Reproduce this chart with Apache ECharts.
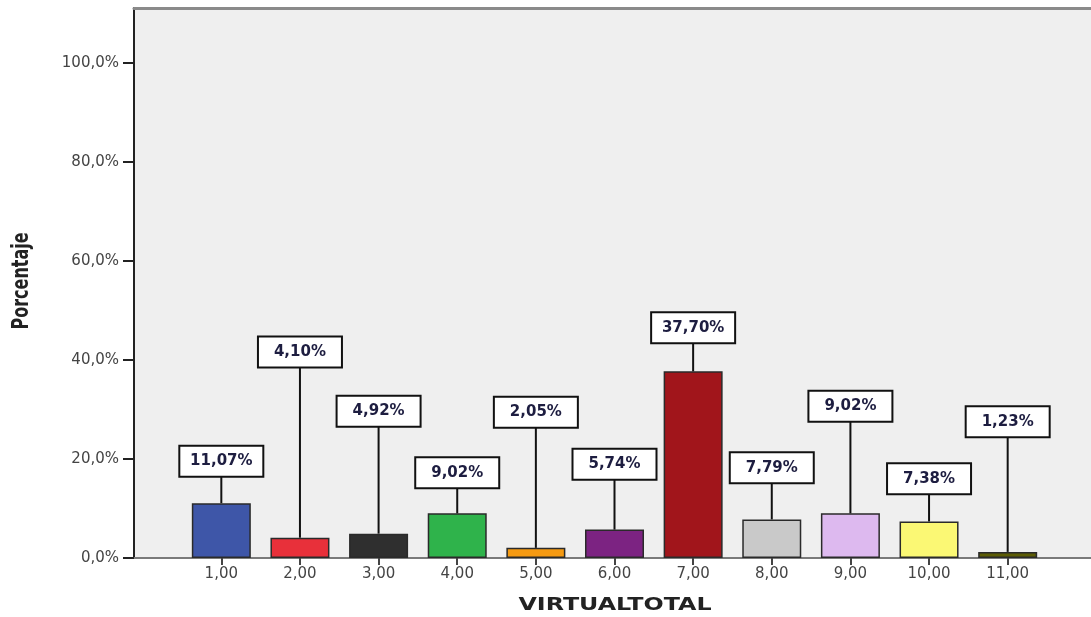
<!DOCTYPE html>
<html>
<head>
<meta charset="utf-8">
<script src="https://cdn.jsdelivr.net/npm/echarts@6.0.0/dist/echarts.min.js"></script>
<style>
  html, body { margin: 0; padding: 0; background: #ffffff; }
  #chart { width: 1091px; height: 617px; }
</style>
</head>
<body>
<div id="chart"></div>
<script>
// VIRTUAL TOTAL score categories and their share of respondents (%)
const categories = ['1,00', '2,00', '3,00', '4,00', '5,00', '6,00', '7,00', '8,00', '9,00', '10,00', '11,00'];
const percentages = [11.07, 4.10, 4.92, 9.02, 2.05, 5.74, 37.70, 7.79, 9.02, 7.38, 1.23];
const barColors = ['#3e56a8', '#e8303a', '#2f2f2f', '#2fb34b', '#f59a12', '#7c2382', '#a1151b', '#c9c9c9', '#ddb9ef', '#fbf874', '#5c5c04'];
// Height (in % units) at which each callout box sits
const calloutLevels = [16.4, 38.5, 26.5, 14.1, 26.3, 15.8, 43.4, 15.1, 27.5, 12.9, 24.4];
const yTicks = [0, 20, 40, 60, 80, 100];
const xTitle = 'VIRTUALTOTAL';
const yTitle = 'Porcentaje';

const Y_MAX = 111.1;
const fmtPct = (v, d) => v.toFixed(d).replace('.', ',') + '%';

const chart = echarts.init(document.getElementById('chart'));

chart.setOption({
  backgroundColor: '#ffffff',
  animation: false,
  grid: [
    // frame: grey plot background, y axis, baseline and top border
    { left: 134, top: 8, right: 0, bottom: 59, show: true, backgroundColor: '#efefef', borderWidth: 0,
      outerBoundsMode: 'none', containLabel: false },
    // bars
    { left: 182, top: 8, right: 44, bottom: 59, outerBoundsMode: 'none', containLabel: false }
  ],
  graphic: [
    // axis titles, drawn with a horizontal stretch
    { type: 'text', x: 615, y: 605, scaleX: 1.32,
      style: { text: xTitle, font: 'bold 18px "DejaVu Sans"', fill: '#222', align: 'center', verticalAlign: 'middle' } },
    { type: 'text', rotation: Math.PI / 2, scaleY: 1.4,
      x: 22, y: 281,
      style: { text: yTitle, font: 'bold 16px "DejaVu Sans"', fill: '#222', align: 'center', verticalAlign: 'middle' } }
  ],
  xAxis: [
    {
      gridIndex: 0, type: 'value', min: 0, max: 1, position: 'bottom',
      axisLine: { show: true, lineStyle: { color: '#7a7a7a', width: 2 } },
      axisTick: { show: false }, axisLabel: { show: false }, splitLine: { show: false }
    },
    {
      gridIndex: 0, type: 'value', min: 0, max: 1, position: 'top',
      axisLine: { show: true, lineStyle: { color: '#8a8a8a', width: 3 } },
      axisTick: { show: false }, axisLabel: { show: false }, splitLine: { show: false }
    },
    {
      gridIndex: 1, type: 'category', data: categories,
      axisLine: { show: false },
      axisTick: { show: true, alignWithLabel: true, length: 7, lineStyle: { color: '#444', width: 2 } },
      axisLabel: { margin: 9, fontFamily: 'DejaVu Sans', fontSize: 15, color: '#444' }
    }
  ],
  yAxis: [
    {
      gridIndex: 0, type: 'value', min: 0, max: Y_MAX,
      axisLine: { show: true, lineStyle: { color: '#222', width: 2 } },
      axisTick: { show: true, length: 11, customValues: yTicks, lineStyle: { color: '#222', width: 2 } },
      axisLabel: {
        margin: 15, customValues: yTicks, fontFamily: 'DejaVu Sans', fontSize: 15, color: '#444',
        formatter: v => fmtPct(v, 1)
      },
      splitLine: { show: false }
    },
    {
      gridIndex: 1, type: 'value', min: 0, max: Y_MAX, show: false, splitLine: { show: false }
    }
  ],
  series: [
    {
      type: 'bar', xAxisIndex: 2, yAxisIndex: 1, barWidth: 59,
      data: percentages.map((v, i) => ({
        value: v,
        itemStyle: { color: barColors[i], borderColor: '#2a2a2a', borderWidth: 1.5 }
      }))
    },
    {
      // callout boxes with leader lines down to each bar
      type: 'custom', xAxisIndex: 2, yAxisIndex: 1, z: 5,
      data: percentages.map((v, i) => [i, v, calloutLevels[i]]),
      renderItem: function (params, api) {
        const i = api.value(0), v = api.value(1), lvl = api.value(2);
        const barTop = api.coord([i, v]);
        const base = api.coord([i, lvl]);
        const bw = 84, bh = 31;
        return {
          type: 'group',
          children: [
            { type: 'line', shape: { x1: barTop[0], y1: barTop[1], x2: barTop[0], y2: base[1] },
              style: { stroke: '#111', lineWidth: 2 } },
            { type: 'rect', shape: { x: base[0] - bw / 2, y: base[1] - bh, width: bw, height: bh },
              style: { fill: '#ffffff', stroke: '#111', lineWidth: 2 } },
            { type: 'text', style: {
                x: base[0], y: base[1] - bh / 2, text: fmtPct(v, 2),
                align: 'center', verticalAlign: 'middle',
                font: 'bold 15px "DejaVu Sans"', fill: '#1d1d40' } }
          ]
        };
      }
    }
  ]
});
</script>
</body>
</html>
